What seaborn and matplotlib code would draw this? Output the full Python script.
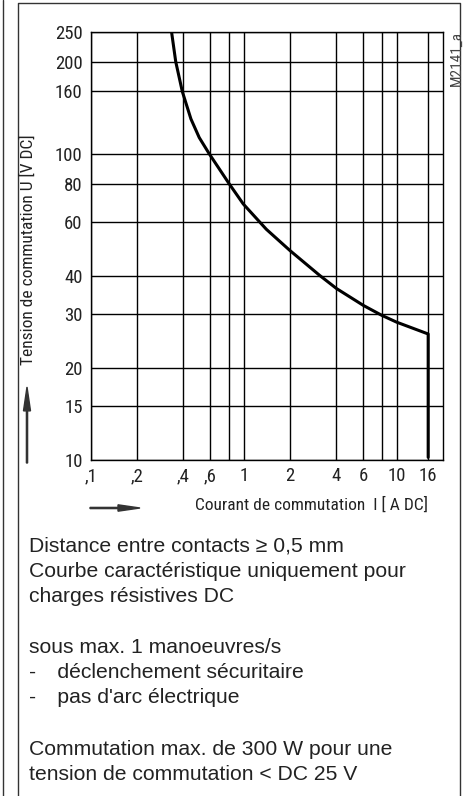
import matplotlib
matplotlib.use("Agg")
import matplotlib.pyplot as plt
from matplotlib.lines import Line2D
from matplotlib.patches import FancyArrow
from matplotlib import font_manager
import seaborn as sns
import pandas as pd

sns.set_theme(style="white")

# ---- data ----
current_A = [0.337, 0.358, 0.395, 0.45, 0.51, 0.593, 0.798, 0.989, 1.4,
             2.0, 3.14, 4.03, 6.02, 7.94, 9.95, 16.0, 16.0]
voltage_V = [248, 200, 160, 130, 113, 100, 80, 68.6, 56.7,
             48.3, 40.0, 36.3, 32.0, 29.7, 28.2, 25.8, 10.2]
x_ticks = [0.1, 0.2, 0.4, 0.6, 0.8, 1, 2, 4, 6, 8, 10, 16]
x_ticklabels = [",1", ",2", ",4", ",6", "", "1", "2", "4", "6", "", "10", "16"]
y_ticks = [10, 15, 20, 30, 40, 60, 80, 100, 160, 200, 250]
y_ticklabels = ["10", "15", "20", "30", "40", "60", "80", "100", "160", "200", "250"]
notes = [
    "Distance entre contacts \u2265 0,5 mm",
    "Courbe caractéristique uniquement pour",
    "charges résistives DC",
    "",
    "sous max. 1 manoeuvres/s",
    "-\u2002\u2002déclenchement sécuritaire",
    "-\u2002\u2002pas d'arc électrique",
    "",
    "Commutation max. de 300 W pour une",
    "tension de commutation < DC 25 V",
]

installed = {f.name for f in font_manager.fontManager.ttflist}
condensed = None
for cand in ["Roboto Condensed", "Liberation Sans Narrow", "Open Sans Condensed", "DejaVu Sans Condensed"]:
    if cand in installed:
        condensed = cand
        break
if condensed:
    plt.rcParams['font.family'] = [condensed, 'Liberation Sans', 'DejaVu Sans']
    tick_fs, ylab_fs, xlab_fs = 13.5, 12.5, 12.5
else:
    plt.rcParams['font.family'] = ['Liberation Sans', 'DejaVu Sans']
    tick_fs, ylab_fs, xlab_fs = 12.0, 10.6, 11.0

W, H = 470, 796
fig = plt.figure(figsize=(W / 100, H / 100), dpi=100)
fig.patch.set_facecolor("white")

def fx(px):
    return px / W

def fy(py):
    return 1 - py / H

ax = fig.add_axes([fx(91), fy(460), fx(443) - fx(91), fy(32) - fy(460)])
df = pd.DataFrame({"I": current_A, "U": voltage_V})
sns.lineplot(data=df, x="I", y="U", sort=False, estimator=None, color="black", lw=2.2, ax=ax)

ax.set_xscale("log")
ax.set_yscale("log")
ax.set_xlim(0.1, 20)
ax.set_ylim(10, 250)
ax.set_xticks(x_ticks)
ax.set_xticklabels(x_ticklabels)
ax.set_yticks(y_ticks)
ax.set_yticklabels(y_ticklabels)
ax.minorticks_off()
ax.tick_params(axis="both", length=0, labelsize=tick_fs, colors="#222222")
ax.tick_params(axis="x", pad=5)
ax.tick_params(axis="y", pad=6)
ax.grid(True, which="major", color="black", lw=1.0)
for s in ax.spines.values():
    s.set_visible(True)
    s.set_color("black")
    s.set_linewidth(1.0)
ax.set_xlabel("")
ax.set_ylabel("")
ax.set_facecolor("white")

# axis labels as free text
fig.text(fx(428), fy(505), "Courant de commutation  I [ A DC]", ha="right", va="center",
         fontsize=xlab_fs, color="#222222")
fig.text(fx(28), fy(250), "Tension de commutation U [V DC]", ha="center", va="center",
         rotation=90, fontsize=ylab_fs, color="#222222")
fig.text(fx(457), fy(31), "M2141_a", ha="center", va="top", rotation=90,
         fontsize=11, color="#444444")

# arrows
fig.add_artist(FancyArrow(fx(90), fy(508), fx(140) - fx(90), 0, width=0.0015,
                          head_width=0.008, head_length=fx(22), length_includes_head=True,
                          color="#333333", transform=fig.transFigure))
fig.add_artist(FancyArrow(fx(27), fy(463), 0, fy(387) - fy(463), width=0.0025,
                          head_width=fx(7), head_length=0.03, length_includes_head=True,
                          color="#333333", transform=fig.transFigure))

# frame lines
fig.add_artist(Line2D([fx(3), fx(3)], [0, 1], color="#333333", lw=1.0, transform=fig.transFigure))
fig.add_artist(Line2D([fx(17.5), fx(17.5), fx(460), fx(460)], [0, fy(3), fy(3), 0],
                      color="#333333", lw=1.0, transform=fig.transFigure))

# notes
baselines = [551, 577, 602, 627, 653, 678, 703, 729, 755, 780]
for line, b in zip(notes, baselines):
    if line:
        fig.text(fx(29), fy(b), line, ha="left", va="baseline", fontsize=15.2,
                 family=["Liberation Sans", "DejaVu Sans"], color="#222222")

fig.savefig("out.png", dpi=100, facecolor="white")
